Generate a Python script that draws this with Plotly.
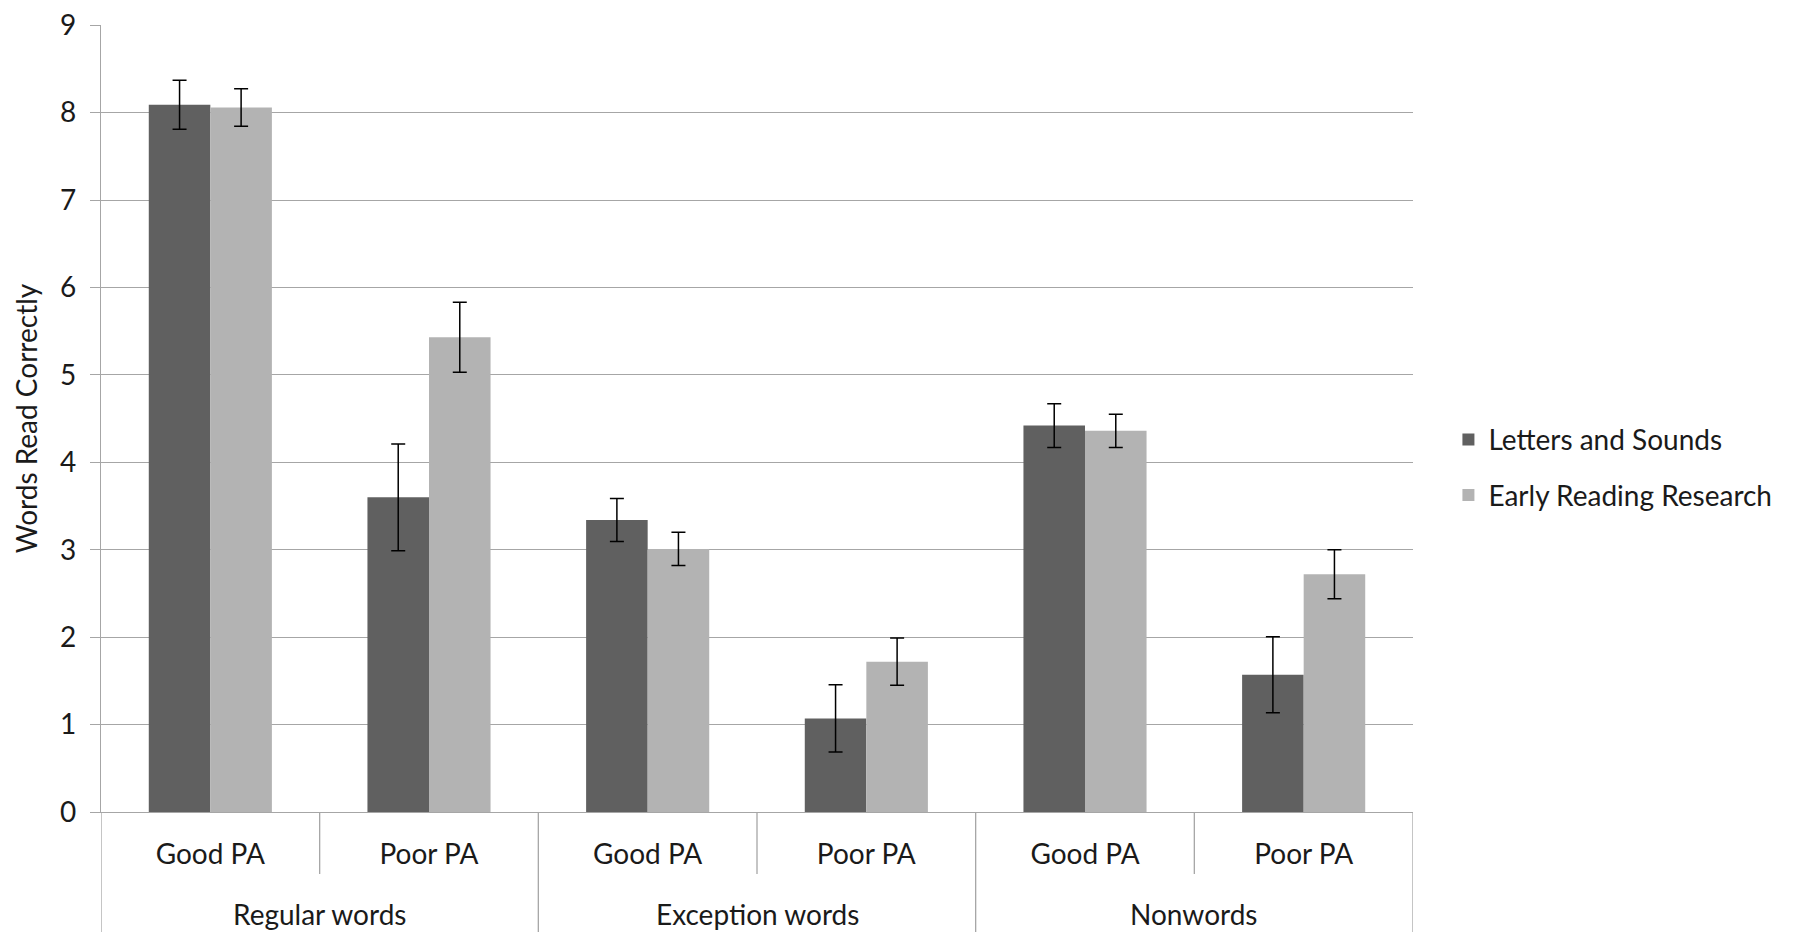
import plotly.graph_objects as go

groups = ["Regular words", "Regular words", "Exception words", "Exception words", "Nonwords", "Nonwords"]
pa_levels = ["Good PA", "Poor PA", "Good PA", "Poor PA", "Good PA", "Poor PA"]
series_names = ["Letters and Sounds", "Early Reading Research"]
letters_sounds = [8.09, 3.60, 3.34, 1.07, 4.42, 1.57]
letters_sounds_err = [0.28, 0.61, 0.245, 0.385, 0.25, 0.435]
early_reading = [8.06, 5.43, 3.01, 1.72, 4.36, 2.72]
early_reading_err = [0.215, 0.40, 0.19, 0.27, 0.19, 0.28]
y_ticks = [0, 1, 2, 3, 4, 5, 6, 7, 8, 9]

FONT = "Lato"
FS = 28
TXT = "#1a1a1a"
GRID = "#a6a6a6"
DARK = "#606060"
LIGHT = "#b3b3b3"

idx = list(range(len(pa_levels)))

fig = go.Figure()
for name, vals, errs, col, grp in [
    (series_names[0], letters_sounds, letters_sounds_err, DARK, "a"),
    (series_names[1], early_reading, early_reading_err, LIGHT, "b"),
]:
    fig.add_trace(go.Bar(
        x=idx, y=vals, name=name, legendgroup=grp,
        marker=dict(color=col, line=dict(width=0)),
        error_y=dict(type="data", array=errs, visible=True,
                     color="#000000", thickness=1.5, width=7),
    ))

# page body has an 8px margin: figure is 8px smaller, margins shifted
W, H = 1790, 924
ML, MT, MB, MR = 93, 17, 120, 385
plot_h = H - MT - MB
shapes = []
boundaries = [i - 0.5 for i in range(0, len(groups) + 1)]
for b in boundaries:
    i = int(b + 0.5)
    outer = (i == 0 or i == len(groups) or groups[i] != groups[i - 1])
    shapes.append(dict(type="line", xref="x", yref="paper", x0=b, x1=b,
                       y0=0, y1=(-MB if outer else -62) / plot_h,
                       line=dict(color=GRID, width=1.3)))

annotations = []
seen = []
for g in groups:
    if g not in seen:
        seen.append(g)
for g in seen:
    pos = [i for i, gg in enumerate(groups) if gg == g]
    annotations.append(dict(text=g, x=sum(pos) / len(pos), xref="x", y=0, yref="paper",
                            yanchor="middle", yshift=-102, showarrow=False,
                            font=dict(family=FONT, size=FS, color=TXT)))

fig.update_layout(
    width=W, height=H,
    margin=dict(l=ML, r=MR, t=MT, b=MB, autoexpand=False),
    paper_bgcolor="white", plot_bgcolor="white",
    barmode="group", bargap=0.437, bargroupgap=0,
    font=dict(family=FONT, size=FS, color=TXT),
    shapes=shapes, annotations=annotations,
    legend=dict(x=1.027, xanchor="left", y=0.438, yanchor="middle",
                font=dict(family=FONT, size=FS, color=TXT),
                tracegroupgap=16, traceorder="grouped"),
    xaxis=dict(range=[-0.5, len(groups) - 0.5], tickmode="array", tickvals=idx,
               ticktext=pa_levels, ticks="", showgrid=False, zeroline=False,
               showline=True, linecolor=GRID, linewidth=1.3,
               ticklabelstandoff=17, fixedrange=True),
    yaxis=dict(range=[0, 9.003], tickmode="array", tickvals=y_ticks,
               showgrid=True, gridcolor=GRID, gridwidth=1.3, zeroline=False,
               showline=True, linecolor=GRID, linewidth=1.3,
               ticks="outside", ticklen=10, tickcolor=GRID, tickwidth=1.3,
               ticklabelstandoff=8, ticklabeloverflow="allow",
               title=dict(text="Words Read Correctly", standoff=14,
                          font=dict(family=FONT, size=FS, color=TXT))),
    showlegend=True,
)

fig.write_html("out.html")
